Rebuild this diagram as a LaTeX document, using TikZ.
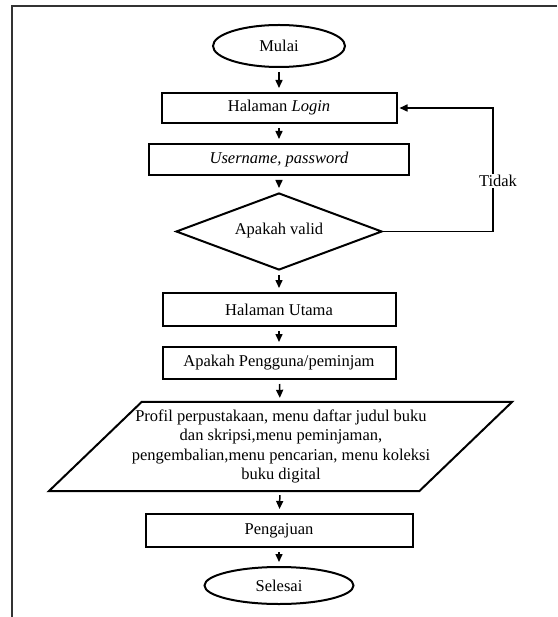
\documentclass[tikz,border=0pt]{standalone}
\usepackage{fontspec}
\setmainfont{Liberation Serif}
\usetikzlibrary{shapes.geometric,arrows.meta,calc}
\begin{document}
\begin{tikzpicture}[x=1pt,y=-1pt,
  font=\fontsize{16.5}{19.5}\selectfont,
  box/.style={draw,rectangle,line width=2pt,inner sep=0pt},
  term/.style={draw,ellipse,line width=2pt,inner sep=0pt},
  dia/.style={draw,diamond,aspect=2.675,line width=2pt,inner sep=0pt},
  tip/.style={-{Triangle[length=8pt,width=7pt]}},
  arr/.style={tip,line width=1.5pt,shorten <=4pt,shorten >=4pt},
  fb/.style={tip,line width=1.6pt,shorten >=2pt}]
\useasboundingbox (0,0) rectangle (557,617);
\draw[line width=1.5pt,black!80] (557,6) -- (12,6) -- (12,617);

\node[term,minimum width=132pt,minimum height=42pt] (mulai) at (279,46) {Mulai};
\node[box,minimum width=235pt,minimum height=30pt] (login) at (279,108) {Halaman \textit{Login}};
\node[box,minimum width=260pt,minimum height=31pt] (user) at (279,159.5) {\textit{Username, password}};
\node[dia,minimum width=206pt,minimum height=77pt] (valid) at (279,231.5) {\raisebox{6pt}{Apakah valid}};
\node[box,minimum width=233pt,minimum height=33pt] (utama) at (279,309.5) {Halaman Utama};
\node[box,minimum width=233pt,minimum height=32pt] (peng) at (279,363) {Apakah Pengguna/peminjam};
\node[inner sep=0pt,align=center,minimum width=370pt,minimum height=89pt] (menu) at (281,446.5)
  {Profil perpustakaan, menu daftar judul buku\\dan skripsi,menu peminjaman,\\pengembalian,menu pencarian, menu koleksi\\buku digital};
\draw[line width=2pt] ($(menu.north west)+(46,0)$) -- ($(menu.north east)+(46,0)$)
  -- ($(menu.south east)+(-47,0)$) -- ($(menu.south west)+(-47,0)$) -- cycle;
\node[box,minimum width=267pt,minimum height=33pt] (aju) at (279,530.5) {Pengajuan};
\node[term,minimum width=149pt,minimum height=37pt] (selesai) at (279,585.5) {Selesai};

\draw[arr] (mulai) -- (login);
\draw[arr] (login) -- (user);
\draw[arr] (user) -- (valid);
\draw[arr] (valid) -- (utama);
\draw[arr] (utama) -- (peng);
\draw[arr] (peng) -- (menu);
\draw[arr] (menu) -- (aju);
\draw[arr] (aju) -- (selesai);

\coordinate (c2) at (493,108);
\draw[fb] (valid.east) -| (c2) -- (login.east);
\node[fill=white,inner sep=1pt] (tidak) at (498,181) {Tidak};
\end{tikzpicture}
\end{document}
